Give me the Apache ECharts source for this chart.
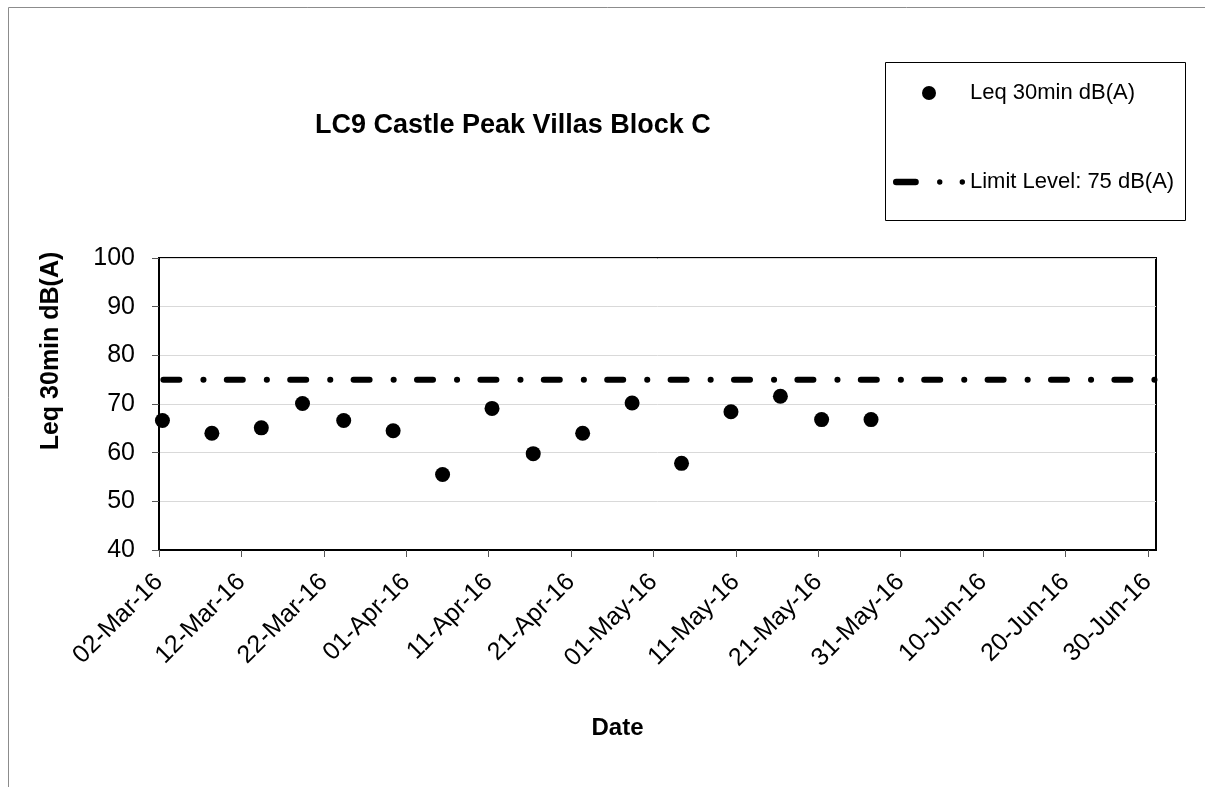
<!DOCTYPE html>
<html>
<head>
<meta charset="utf-8">
<script src="https://cdn.jsdelivr.net/npm/echarts@6/dist/echarts.min.js"></script>
<style>
  html, body { margin: 0; padding: 0; background: #fff; }
  #main { width: 1205px; height: 787px; }
</style>
</head>
<body>
<div id="main"></div>
<script>
const sampleDates = [
  '2016-03-02T10:00Z', '2016-03-08T10:00Z', '2016-03-14T10:00Z', '2016-03-19T10:00Z',
  '2016-03-24T10:00Z', '2016-03-30T10:00Z', '2016-04-05T10:00Z', '2016-04-11T10:00Z',
  '2016-04-16T10:00Z', '2016-04-22T10:00Z', '2016-04-28T10:00Z', '2016-05-04T10:00Z',
  '2016-05-10T10:00Z', '2016-05-16T10:00Z', '2016-05-21T10:00Z', '2016-05-27T10:00Z'
];
const leqValues = [66.6, 64.0, 65.1, 70.1, 66.6, 64.5, 55.5, 69.1, 59.8, 64.0, 70.2, 57.8, 68.4, 71.6, 66.8, 66.8];

const axisStart = '2016-03-02T00:00Z';
const axisEnd = '2016-07-01T00:00Z';
const limitLevel = 75;
const tickDays = [0, 10, 20, 30, 40, 50, 60, 70, 80, 90, 100, 110, 120];
const yTicks = { min: 40, max: 100, step: 10 };

const seriesNames = ['Leq 30min dB(A)', 'Limit Level: 75 dB(A)'];
const months = ['Jan', 'Feb', 'Mar', 'Apr', 'May', 'Jun', 'Jul', 'Aug', 'Sep', 'Oct', 'Nov', 'Dec'];

const DAY = 86400000;
const t0 = Date.parse(axisStart);
function dayOffset(s) {
  return (Date.parse(s) - t0) / DAY;
}
function fmtDay(v) {
  const d = new Date(t0 + v * DAY);
  const dd = String(d.getUTCDate()).padStart(2, '0');
  const yy = String(d.getUTCFullYear()).slice(2);
  return dd + '-' + months[d.getUTCMonth()] + '-' + yy;
}

// legend swatch for the limit line: dash, dot, dot
const dashDotIcon = 'path://M3,0 L21,0 A3,3 0 0,1 21,6 L3,6 A3,3 0 0,1 3,0 Z ' +
  'M41,3 A2.5,2.5 0 1,0 46,3 A2.5,2.5 0 1,0 41,3 Z ' +
  'M62,3 A2.5,2.5 0 1,0 67,3 A2.5,2.5 0 1,0 62,3 Z';

const font = 'Liberation Sans, Arial, sans-serif';
const chart = echarts.init(document.getElementById('main'), null, { renderer: 'canvas' });

chart.setOption({
  backgroundColor: '#fff',
  animation: false,
  textStyle: { fontFamily: font, color: '#000' },
  title: {
    text: 'LC9 Castle Peak Villas Block C',
    left: 315,
    top: 112,
    padding: 0,
    textStyle: { fontFamily: font, fontSize: 27, fontWeight: 'bold', color: '#000' }
  },
  legend: {
    orient: 'vertical',
    left: 893,
    top: 81,
    padding: 0,
    itemWidth: 72,
    itemHeight: 14,
    itemGap: 65,
    textStyle: { fontFamily: font, fontSize: 22, color: '#000', lineHeight: 24 },
    data: [
      { name: seriesNames[0], icon: 'circle' },
      { name: seriesNames[1], icon: dashDotIcon }
    ]
  },
  graphic: [
    {
      type: 'rect',
      silent: true,
      shape: { x: 8.5, y: 7.5, width: 1400, height: 1000 },
      style: { fill: 'none', stroke: '#8c8c8c', lineWidth: 1 }
    },
    {
      type: 'rect',
      silent: true,
      shape: { x: 885.5, y: 62.5, width: 300, height: 158 },
      style: { fill: 'none', stroke: '#000', lineWidth: 1 }
    }
  ],
  grid: {
    left: 159,
    right: 49,
    top: 258,
    bottom: 237,
    show: true,
    borderColor: '#000',
    borderWidth: 2,
    outerBoundsMode: 'none'
  },
  xAxis: {
    type: 'value',
    min: 0,
    max: dayOffset(axisEnd),
    name: 'Date',
    nameLocation: 'middle',
    nameGap: 166,
    nameTextStyle: { fontFamily: font, fontSize: 24, fontWeight: 'bold', color: '#000', padding: [0, 80, 0, 0] },
    splitLine: { show: false },
    axisLine: { lineStyle: { color: '#000', width: 2 } },
    axisTick: { show: true, length: 7, customValues: tickDays, lineStyle: { color: '#555', width: 1 } },
    axisLabel: {
      customValues: tickDays,
      rotate: 45,
      margin: 28,
      fontFamily: font,
      fontSize: 25,
      color: '#000',
      formatter: fmtDay
    }
  },
  yAxis: {
    type: 'value',
    min: yTicks.min,
    max: yTicks.max,
    interval: yTicks.step,
    name: 'Leq 30min dB(A)',
    nameLocation: 'middle',
    nameGap: 95,
    nameTextStyle: { fontFamily: font, fontSize: 25, fontWeight: 'bold', color: '#000', padding: [0, 0, 0, 106] },
    axisLine: { show: true, lineStyle: { color: '#000', width: 2 } },
    axisTick: { show: true, length: 7, lineStyle: { color: '#555', width: 1 } },
    axisLabel: { margin: 24, fontFamily: font, fontSize: 25, color: '#000' },
    splitLine: { show: true, lineStyle: { color: '#d9d9d9', width: 1 } }
  },
  series: [
    {
      name: seriesNames[0],
      type: 'scatter',
      symbol: 'circle',
      symbolSize: 15,
      itemStyle: { color: '#000', opacity: 1 },
      z: 3,
      data: sampleDates.map((d, i) => [dayOffset(d), leqValues[i]])
    },
    {
      name: seriesNames[1],
      type: 'line',
      symbol: 'none',
      lineStyle: { color: '#000', width: 6, type: [16, 24, 0.1, 23.3], dashOffset: 59, cap: 'round' },
      itemStyle: { color: '#000' },
      z: 2,
      data: [[dayOffset(axisStart), limitLevel], [dayOffset(axisEnd), limitLevel]]
    }
  ]
});
</script>
</body>
</html>
